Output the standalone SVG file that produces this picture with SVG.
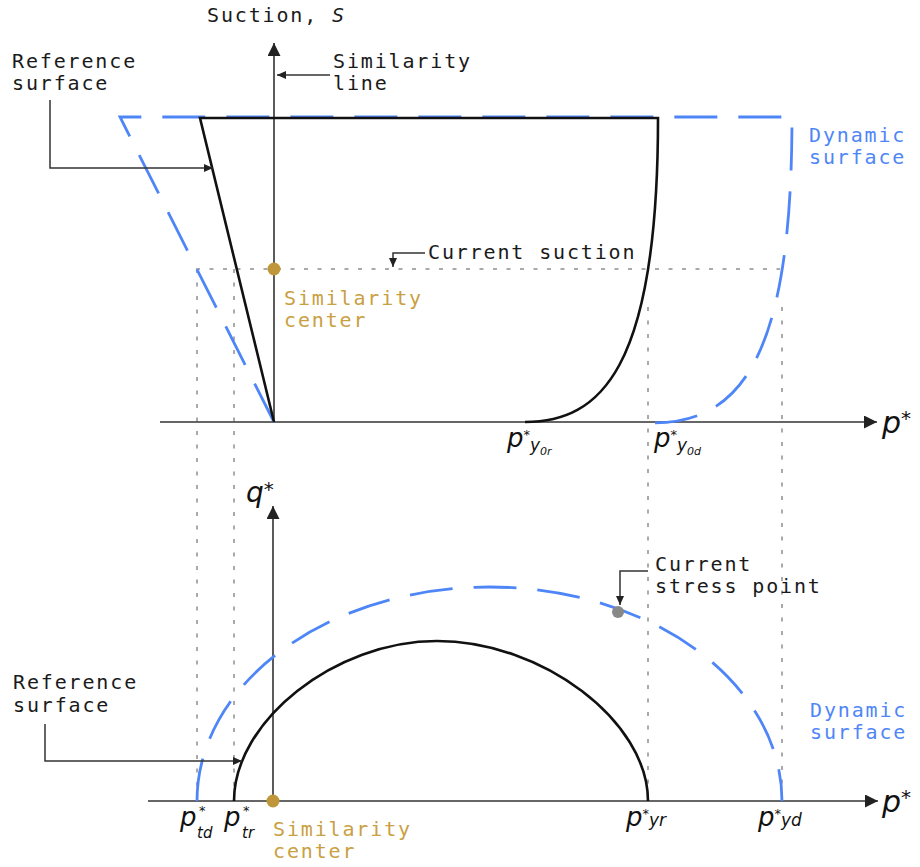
<svg xmlns="http://www.w3.org/2000/svg" width="920" height="867" viewBox="0 0 920 867">
<defs>
<style>
.lbl{font-family:"DejaVu Sans Mono","Liberation Mono",monospace;font-size:20px;letter-spacing:1.85px;fill:#1a1a1a}
.blue{fill:#4F86F7}
.gold{fill:#C9A042}
.math{font-family:"DejaVu Sans","Liberation Sans",sans-serif;font-style:italic;fill:#111}
.axis{stroke:#333;stroke-width:1.6;fill:none}
.ref{stroke:#111;stroke-width:2.6;fill:none}
.dyn{stroke:#4F86F7;stroke-width:2.8;fill:none;stroke-dasharray:43 21}
.dot{stroke:#aaa;stroke-width:2;fill:none;stroke-dasharray:4 9.5}
.call{stroke:#333;stroke-width:1.5;fill:none}
</style>
<marker id="ax" markerUnits="userSpaceOnUse" markerWidth="14" markerHeight="14" refX="13" refY="6.5" orient="auto"><path d="M0,0 L13,6.5 L0,13 z" fill="#222"/></marker>
<marker id="ca" markerUnits="userSpaceOnUse" markerWidth="10" markerHeight="10" refX="9" refY="4" orient="auto"><path d="M0,0 L9,4 L0,8 z" fill="#222"/></marker>
</defs>
<rect width="920" height="867" fill="#fff"/>

<g id="guides">
<line class="dot" x1="196" y1="269" x2="780" y2="269"/>
<line class="dot" x1="197" y1="269" x2="197" y2="801"/>
<line class="dot" x1="234" y1="269" x2="234" y2="801"/>
<line class="dot" x1="648" y1="307" x2="648" y2="801"/>
<line class="dot" x1="782" y1="307" x2="782" y2="801"/>
</g>

<g id="axes-top">
<line class="axis" x1="274" y1="422" x2="274" y2="43" marker-end="url(#ax)"/>
<line class="axis" x1="160" y1="422" x2="877" y2="422" marker-end="url(#ax)"/>
</g>
<g id="axes-bottom">
<line class="axis" x1="273" y1="801" x2="273" y2="506" marker-end="url(#ax)"/>
<line class="axis" x1="148" y1="801" x2="878" y2="801" marker-end="url(#ax)"/>
</g>

<g id="dynamic-surface-top">
<path class="dyn" d="M274,422 L120,117 L792,117 C792,360 740,423 652,423"/>
</g>
<g id="reference-surface-top">
<path class="ref" d="M274,422 L200,118 L658,118 C658,370 600,422 525,422"/>
</g>
<g id="dynamic-surface-bottom">
<path class="dyn" d="M197,801 A292.5,214 0 0 1 782,801"/>
</g>
<g id="reference-surface-bottom">
<path class="ref" d="M234,801 C234,721 335,641 437,641 C542,641 648,721 648,801"/>
</g>

<g id="similarity-center-top">
<circle cx="274" cy="269" r="6.5" fill="#C0963A"/>
<text class="lbl gold" x="284" y="305">Similarity</text>
<text class="lbl gold" x="284" y="327">center</text>
</g>
<g id="similarity-center-bottom">
<circle cx="273" cy="801" r="6.5" fill="#C0963A"/>
<text class="lbl gold" x="273" y="836">Similarity</text>
<text class="lbl gold" x="273" y="858">center</text>
</g>
<g id="current-stress-point">
<circle cx="618" cy="612" r="6" fill="#888"/>
</g>

<g id="connectors">
<path class="call" d="M330,75 L277,75" marker-end="url(#ca)"/>
<path class="call" d="M50,100 L50,168 L213,168" marker-end="url(#ca)"/>
<path class="call" d="M425,253 L393,253 L393,267" marker-end="url(#ca)"/>
<path class="call" d="M648,571 L620,571 L620,605" marker-end="url(#ca)"/>
<path class="call" d="M45,724 L45,761 L242,761" marker-end="url(#ca)"/>
</g>

<g id="labels">
<text class="lbl" x="207" y="22">Suction, <tspan font-style="italic">S</tspan></text>
<text class="lbl" x="12" y="68">Reference</text>
<text class="lbl" x="12" y="90">surface</text>
<text class="lbl" x="333" y="68">Similarity</text>
<text class="lbl" x="333" y="90">line</text>
<text class="lbl blue" x="809" y="142">Dynamic</text>
<text class="lbl blue" x="809" y="164">surface</text>
<text class="lbl" x="428" y="259">Current suction</text>
<text class="lbl" x="655" y="571">Current</text>
<text class="lbl" x="655" y="593">stress point</text>
<text class="lbl" x="13" y="689">Reference</text>
<text class="lbl" x="13" y="712">surface</text>
<text class="lbl blue" x="810" y="717">Dynamic</text>
<text class="lbl blue" x="810" y="739">surface</text>
</g>

<g id="math-labels">
<text class="math" x="882" y="433" font-size="30">p<tspan font-size="20" dy="-8">*</tspan></text>
<text class="math" x="882" y="812" font-size="30">p<tspan font-size="20" dy="-8">*</tspan></text>
<text class="math" x="246" y="502" font-size="28">q<tspan font-size="20" dy="-6">*</tspan></text>
<text class="math" x="507" y="447" font-size="26">p<tspan font-size="13" dy="-8">*</tspan><tspan font-size="17" dy="12">y</tspan><tspan font-size="11" dy="4">0r</tspan></text>
<text class="math" x="654" y="447" font-size="26">p<tspan font-size="13" dy="-8">*</tspan><tspan font-size="17" dy="12">y</tspan><tspan font-size="11" dy="4">0d</tspan></text>
<text class="math" x="180" y="826" font-size="26">p<tspan font-size="13" x="199" y="815">*</tspan><tspan font-size="15" x="197" y="838">td</tspan></text>
<text class="math" x="224" y="826" font-size="26">p<tspan font-size="13" x="243" y="815">*</tspan><tspan font-size="15" x="242" y="838">tr</tspan></text>
<text class="math" x="626" y="826" font-size="26">p<tspan font-size="13" dy="-8">*</tspan><tspan font-size="17" dy="8">yr</tspan></text>
<text class="math" x="758" y="826" font-size="26">p<tspan font-size="13" dy="-8">*</tspan><tspan font-size="17" dy="8">yd</tspan></text>
</g>
</svg>
